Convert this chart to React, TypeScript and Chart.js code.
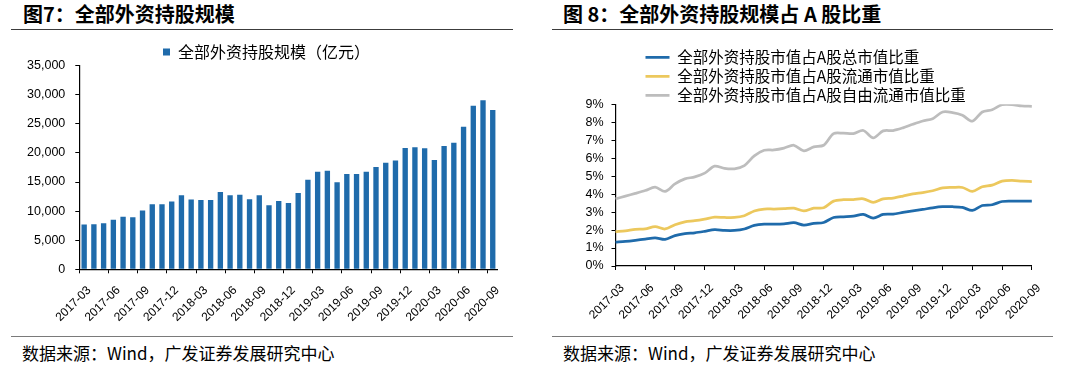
import React, { useEffect, useRef } from 'react';
import { Chart, registerables } from 'chart.js';

Chart.register(...registerables);

// ---------- DATA ----------
const months = [
  '2017-03', '2017-04', '2017-05', '2017-06', '2017-07', '2017-08', '2017-09', '2017-10', '2017-11', '2017-12',
  '2018-01', '2018-02', '2018-03', '2018-04', '2018-05', '2018-06', '2018-07', '2018-08', '2018-09', '2018-10',
  '2018-11', '2018-12', '2019-01', '2019-02', '2019-03', '2019-04', '2019-05', '2019-06', '2019-07', '2019-08',
  '2019-09', '2019-10', '2019-11', '2019-12', '2020-01', '2020-02', '2020-03', '2020-04', '2020-05', '2020-06',
  '2020-07', '2020-08', '2020-09',
];

// 全部外资持股规模（亿元）
const holdings = [
  7700, 7750, 7900, 8500, 9050, 8950, 10100, 11200, 11200, 11650,
  12750, 12000, 11900, 11900, 13300, 12750, 12800, 12050, 12750, 11000,
  11750, 11400, 13100, 15400, 16750, 16950, 14950, 16400, 16400, 16750,
  17600, 18300, 18700, 20850, 21000, 20800, 18800, 21200, 21750, 24500,
  28100, 29050, 27400,
];

// 占A股总市值比重 (%)
const shareTotal = [
  1.33, 1.37, 1.43, 1.5, 1.57, 1.48, 1.69, 1.8, 1.85, 1.93,
  2.02, 1.98, 1.98, 2.06, 2.26, 2.33, 2.33, 2.35, 2.41, 2.28,
  2.37, 2.42, 2.7, 2.74, 2.78, 2.87, 2.67, 2.87, 2.89, 2.98,
  3.07, 3.15, 3.24, 3.3, 3.3, 3.26, 3.09, 3.37, 3.41, 3.59,
  3.61, 3.61, 3.61,
];

// 占A股流通市值比重 (%)
const shareFloat = [
  1.91, 1.96, 2.04, 2.07, 2.19, 2.06, 2.3, 2.46, 2.52, 2.61,
  2.72, 2.7, 2.7, 2.8, 3.06, 3.17, 3.17, 3.19, 3.22, 3.07,
  3.22, 3.24, 3.61, 3.69, 3.7, 3.74, 3.54, 3.74, 3.78, 3.89,
  4.02, 4.09, 4.19, 4.35, 4.37, 4.37, 4.15, 4.41, 4.5, 4.72,
  4.76, 4.72, 4.7,
];

// 占A股自由流通市值比重 (%)
const shareFreeFloat = [
  3.74, 3.89, 4.04, 4.2, 4.39, 4.15, 4.57, 4.85, 4.96, 5.17,
  5.56, 5.43, 5.41, 5.59, 6.13, 6.44, 6.46, 6.56, 6.72, 6.41,
  6.63, 6.72, 7.37, 7.39, 7.37, 7.54, 7.13, 7.52, 7.54, 7.69,
  7.89, 8.07, 8.2, 8.57, 8.54, 8.39, 8.06, 8.57, 8.7, 8.98,
  8.98, 8.91, 8.89,
];

const barTicks = [0, 5000, 10000, 15000, 20000, 25000, 30000, 35000];
const pctTicks = [0, 1, 2, 3, 4, 5, 6, 7, 8, 9];

const barLabel = '全部外资持股规模（亿元）';
const lineLabels = [
  '全部外资持股市值占A股总市值比重',
  '全部外资持股市值占A股流通市值比重',
  '全部外资持股市值占A股自由流通市值比重',
];

const BLUE = '#1f6bab';
const YELLOW = '#ecc85d';
const GRAY = '#bdbdbd';

const AXIS_FONT = { family: '"Liberation Sans", Arial, sans-serif', size: 12 };
const Y_FONT = { family: '"Liberation Sans", Arial, sans-serif', size: 12.5 };
const CJK = '"Noto Sans CJK SC", "Noto Sans", sans-serif';

// legend placement helper: fixed height + fixed left start
const legendPlace = (height: number, left: number) => ({
  id: 'legendPlace',
  beforeInit(chart: any) {
    const lg = chart.legend;
    if (!lg) return;
    const orig = lg.fit;
    lg.fit = function () {
      orig.call(this);
      this.height = height;
    };
  },
  beforeDraw(chart: any) {
    if (chart.legend) chart.legend.left = left;
  },
});

const every3 = (i: number) => i % 3 === 0;

function BarChart() {
  const ref = useRef<HTMLCanvasElement | null>(null);
  useEffect(() => {
    if (!ref.current) return;
    const chart = new Chart(ref.current, {
      type: 'bar',
      data: {
        labels: months,
        datasets: [
          {
            label: barLabel,
            data: holdings,
            backgroundColor: BLUE,
            borderWidth: 0,
            barPercentage: 0.55,
            categoryPercentage: 1,
          },
        ],
      },
      options: {
        responsive: false,
        animation: false,
        layout: { padding: { left: 0, right: 6.3, top: 0, bottom: 0 } },
        plugins: {
          legend: {
            display: true,
            position: 'top',
            align: 'start',
            labels: {
              boxWidth: 7,
              boxHeight: 7,
              padding: 6,
              color: '#000',
              font: { family: CJK, size: 16 },
            },
          },
          tooltip: { enabled: false },
        },
        scales: {
          x: {
            type: 'category',
            offset: true,
            grid: {
              display: true,
              offset: true,
              drawOnChartArea: false,
              drawTicks: true,
              tickLength: 4,
              tickColor: (ctx: any) => (typeof ctx.index === 'number' && every3(ctx.index) ? '#000' : 'rgba(0,0,0,0)'),
            },
            border: { display: true, color: '#000', width: 1.2 },
            ticks: {
              autoSkip: false,
              minRotation: 45,
              maxRotation: 45,
              labelOffset: 5,
              padding: 10,
              color: '#000',
              font: AXIS_FONT,
              callback: (_v: any, i: number) => (every3(i) ? months[i] : ''),
            },
            afterFit: (axis: any) => {
              axis.height = 58.7;
            },
          },
          y: {
            min: 0,
            max: 35000,
            afterBuildTicks: (axis: any) => {
              axis.ticks = barTicks.map((v) => ({ value: v }));
            },
            grid: {
              display: true,
              drawOnChartArea: false,
              tickLength: 4,
              tickColor: '#000',
            },
            border: { display: true, color: '#000', width: 1.2 },
            ticks: {
              autoSkip: false,
              padding: 10,
              color: '#000',
              font: Y_FONT,
              callback: (v: any) => Number(v).toLocaleString('en-US'),
            },
            afterFit: (axis: any) => {
              axis.width = 68.3;
            },
          },
        },
      } as any,
      plugins: [legendPlace(27.7, 146)],
    });
    return () => chart.destroy();
  }, []);
  return (
    <canvas
      ref={ref}
      width={502}
      height={290}
      style={{ position: 'absolute', left: 11, top: 38, width: 502, height: 290 }}
    />
  );
}

function LineChart() {
  const ref = useRef<HTMLCanvasElement | null>(null);
  useEffect(() => {
    if (!ref.current) return;
    const series = [shareTotal, shareFloat, shareFreeFloat];
    const colors = [BLUE, YELLOW, GRAY];
    const chart = new Chart(ref.current, {
      type: 'line',
      data: {
        labels: months,
        datasets: series.map((d, k) => ({
          label: lineLabels[k],
          data: d,
          borderColor: colors[k],
          backgroundColor: colors[k],
          borderWidth: 2.75,
          pointRadius: 0,
          tension: 0.3,
          fill: false,
        })),
      },
      options: {
        responsive: false,
        animation: false,
        layout: { padding: { left: 0, right: 21, top: 0, bottom: 0 } },
        plugins: {
          legend: {
            display: true,
            position: 'top',
            align: 'start',
            labels: {
              usePointStyle: true,
              pointStyle: 'line',
              pointStyleWidth: 24,
              padding: 3.5,
              color: '#000',
              font: { family: CJK, size: 15.5 },
            },
          },
          tooltip: { enabled: false },
        },
        scales: {
          x: {
            type: 'category',
            offset: false,
            grid: {
              display: true,
              drawOnChartArea: false,
              drawTicks: true,
              tickLength: 4,
              tickColor: (ctx: any) => (typeof ctx.index === 'number' && every3(ctx.index) ? '#000' : 'rgba(0,0,0,0)'),
            },
            border: { display: true, color: '#000', width: 1.2 },
            ticks: {
              autoSkip: false,
              minRotation: 45,
              maxRotation: 45,
              labelOffset: 7,
              padding: 11,
              color: '#000',
              font: AXIS_FONT,
              callback: (_v: any, i: number) => (every3(i) ? months[i] : ''),
            },
            afterFit: (axis: any) => {
              axis.height = 70;
            },
          },
          y: {
            min: 0,
            max: 9,
            afterBuildTicks: (axis: any) => {
              axis.ticks = pctTicks.map((v) => ({ value: v }));
            },
            grid: {
              display: true,
              drawOnChartArea: false,
              tickLength: 4,
              tickColor: '#000',
            },
            border: { display: true, color: '#000', width: 1.2 },
            ticks: {
              autoSkip: false,
              padding: 8,
              color: '#000',
              font: Y_FONT,
              callback: (v: any) => `${v}%`,
            },
            afterFit: (axis: any) => {
              axis.width = 63.5;
            },
          },
        },
      } as any,
      plugins: [legendPlace(58.3, 90)],
    });
    return () => chart.destroy();
  }, []);
  return (
    <canvas
      ref={ref}
      width={501}
      height={290}
      style={{ position: 'absolute', left: 552, top: 46, width: 501, height: 290 }}
    />
  );
}

const titleStyle: React.CSSProperties = {
  position: 'absolute',
  top: 3.5,
  fontFamily: CJK,
  fontWeight: 700,
  fontSize: 20,
  lineHeight: '20px',
  color: '#000',
  whiteSpace: 'nowrap',
};

const sourceStyle: React.CSSProperties = {
  position: 'absolute',
  top: 344,
  fontFamily: CJK,
  fontSize: 17,
  lineHeight: '17px',
  color: '#000',
  whiteSpace: 'nowrap',
};

const rule = (left: number, top: number, width: number, color: string): React.CSSProperties => ({
  position: 'absolute',
  left,
  top,
  width,
  height: 1,
  background: color,
});

export default function App() {
  return (
    <div
      style={{
        position: 'absolute',
        left: 0,
        top: 0,
        width: 1080,
        height: 369,
        background: '#fff',
        overflow: 'hidden',
      }}
    >
      <div style={{ ...titleStyle, left: 23 }}>图7：全部外资持股规模</div>
      <div style={{ ...titleStyle, left: 563 }}>图 8：全部外资持股规模占 A 股比重</div>
      <div style={rule(11, 29, 502, '#3c3c3c')} />
      <div style={rule(552, 29, 501, '#3c3c3c')} />
      <BarChart />
      <LineChart />
      <div style={rule(11, 336, 502, '#7a7a7a')} />
      <div style={rule(552, 336, 501, '#7a7a7a')} />
      <div style={{ ...sourceStyle, left: 22 }}>数据来源：Wind，广发证券发展研究中心</div>
      <div style={{ ...sourceStyle, left: 563 }}>数据来源：Wind，广发证券发展研究中心</div>
    </div>
  );
}
